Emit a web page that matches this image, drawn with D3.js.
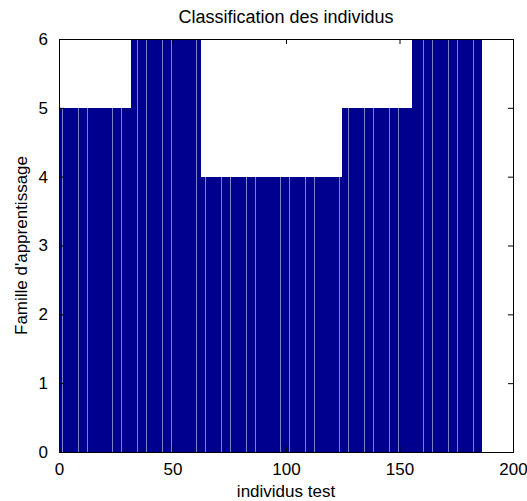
<!DOCTYPE html>
<html>
<head>
<meta charset="utf-8">
<script src="https://cdn.jsdelivr.net/npm/d3@7"></script>
<style>
  body { margin: 0; background: #fff; }
  text { font-family: "Liberation Sans", Arial, Helvetica, sans-serif; fill: #000; }
</style>
</head>
<body>
<svg id="chart" width="527" height="501"></svg>
<script>
// Data: class (famille d'apprentissage) assigned to each test individual 1..186
const segmentClasses = [5, 6, 4, 5, 6];
const segmentLengths = [31, 31, 62, 31, 31];
const values = [];
segmentClasses.forEach((c, k) => { for (let j = 0; j < segmentLengths[k]; j++) values.push(c); });
const individuals = values.map((v, i) => i + 1);
const xTicks = [0, 50, 100, 150, 200];
const yTicks = [0, 1, 2, 3, 4, 5, 6];
const titleText = "Classification des individus";
const xLabelText = "individus test";
const yLabelText = "Famille d'apprentissage";

const W = 527, H = 501;
const m = { left: 59, right: 14, top: 39, bottom: 49 };
const svg = d3.select("#chart");
const x = d3.scaleLinear().domain([0, 200]).range([m.left, W - m.right]);
const y = d3.scaleLinear().domain([0, 6]).range([H - m.bottom, m.top]);
const barW = 0.8;
const fs = 17;

// pixel-snapped bar edges (mimics the raster seams of the original bar plot)
const bars = values.map((v, i) => {
  const L = Math.round(x(individuals[i] - barW / 2));
  let R = Math.round(x(individuals[i] + barW / 2) + 0.3);
  const nextL = i < values.length - 1 ? Math.round(x(individuals[i + 1] - barW / 2)) : R;
  if (R < nextL) R += 0.5;
  return { v, L, R };
});

svg.append("g")
  .selectAll("rect")
  .data(bars)
  .join("rect")
  .attr("x", d => d.L)
  .attr("width", d => d.R - d.L)
  .attr("y", d => Math.round(y(d.v)))
  .attr("height", d => Math.round(y(0)) - Math.round(y(d.v)))
  .attr("fill", "#00008f");

function styleAxis(g) {
  g.select(".domain").remove();
  g.selectAll("line").attr("stroke", "#000").attr("stroke-width", 1);
  g.selectAll("text").style("font-size", fs + "px").attr("fill", "#000");
}

svg.append("g").attr("transform", `translate(0,${y(0)})`)
  .call(d3.axisBottom(x).tickValues(xTicks).tickFormat(d3.format("d")).tickSizeInner(-5).tickSizeOuter(0).tickPadding(11))
  .call(styleAxis);
svg.append("g").attr("transform", `translate(0,${y(6)})`)
  .call(d3.axisTop(x).tickValues(xTicks).tickFormat("").tickSizeInner(-5).tickSizeOuter(0))
  .call(styleAxis);
svg.append("g").attr("transform", `translate(${x(0)},0)`)
  .call(d3.axisLeft(y).tickValues(yTicks).tickFormat(d3.format("d")).tickSizeInner(-5).tickSizeOuter(0).tickPadding(11))
  .call(styleAxis);
svg.append("g").attr("transform", `translate(${x(200)},0)`)
  .call(d3.axisRight(y).tickValues(yTicks).tickFormat("").tickSizeInner(-5).tickSizeOuter(0))
  .call(styleAxis);

svg.append("rect")
  .attr("x", x(0)).attr("y", y(6))
  .attr("width", x(200) - x(0)).attr("height", y(0) - y(6))
  .attr("fill", "none").attr("stroke", "#000").attr("stroke-width", 1)
  .attr("shape-rendering", "crispEdges");

svg.append("text").attr("x", (x(0) + x(200)) / 2).attr("y", 23)
  .attr("text-anchor", "middle").style("font-size", "18px").text(titleText);
svg.append("text").attr("x", (x(0) + x(200)) / 2).attr("y", 497)
  .attr("text-anchor", "middle").style("font-size", fs + "px").text(xLabelText);
svg.append("text")
  .attr("transform", `translate(27,${(y(0) + y(6)) / 2}) rotate(-90)`)
  .attr("text-anchor", "middle").style("font-size", fs + "px").text(yLabelText);
</script>
</body>
</html>
